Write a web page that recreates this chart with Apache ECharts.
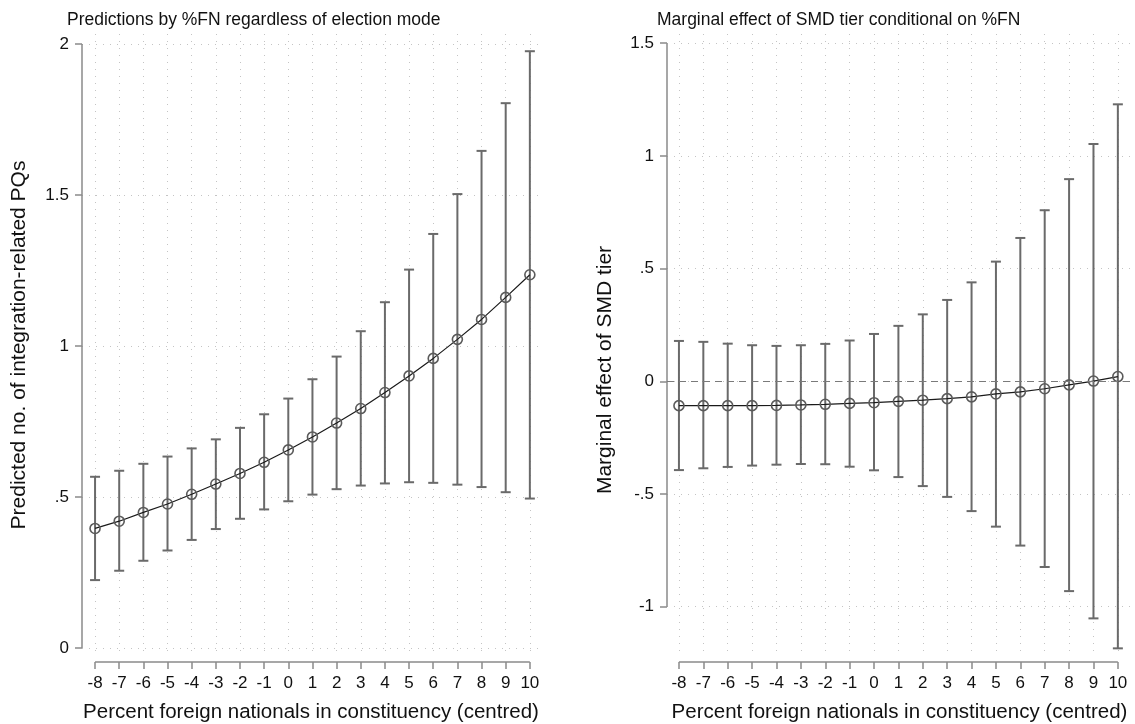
<!DOCTYPE html>
<html>
<head>
<meta charset="utf-8">
<script src="https://cdn.jsdelivr.net/npm/echarts@6/dist/echarts.min.js"></script>
<style>
  html, body { margin: 0; padding: 0; background: #fff; }
  #chart { width: 1135px; height: 724px; }
</style>
</head>
<body>
<div id="chart"></div>
<script>
// ---------- data ----------
const xValues = [-8, -7, -6, -5, -4, -3, -2, -1, 0, 1, 2, 3, 4, 5, 6, 7, 8, 9, 10];
const xTickLabels = ['-8','-7','-6','-5','-4','-3','-2','-1','0','1','2','3','4','5','6','7','8','9','10'];

// Left panel: predicted number of integration-related PQs
const predMean = [0.396, 0.420, 0.449, 0.477, 0.509, 0.543, 0.578, 0.615, 0.656, 0.699, 0.745, 0.793, 0.846, 0.901, 0.959, 1.022, 1.088, 1.161, 1.236];
const predLow  = [0.225, 0.256, 0.289, 0.323, 0.358, 0.394, 0.428, 0.459, 0.486, 0.508, 0.526, 0.538, 0.545, 0.549, 0.547, 0.541, 0.533, 0.516, 0.495];
const predHigh = [0.567, 0.587, 0.610, 0.634, 0.661, 0.691, 0.729, 0.774, 0.826, 0.890, 0.965, 1.049, 1.145, 1.253, 1.371, 1.503, 1.646, 1.804, 1.976];

// Right panel: marginal effect of SMD tier
const meMean = [-0.108, -0.108, -0.108, -0.108, -0.107, -0.105, -0.102, -0.098, -0.095, -0.089, -0.084, -0.077, -0.069, -0.056, -0.047, -0.033, -0.016, 0.001, 0.021];
const meLow  = [-0.394, -0.386, -0.380, -0.374, -0.370, -0.367, -0.368, -0.379, -0.395, -0.425, -0.465, -0.513, -0.576, -0.645, -0.729, -0.824, -0.931, -1.052, -1.185];
const meHigh = [0.179, 0.175, 0.167, 0.160, 0.157, 0.160, 0.166, 0.181, 0.210, 0.246, 0.297, 0.361, 0.439, 0.531, 0.636, 0.759, 0.897, 1.053, 1.229];

const leftYTicks = [0, 0.5, 1, 1.5, 2];
const leftYTickLabels = ['0', '.5', '1', '1.5', '2'];
const rightYTicks = [-1, -0.5, 0, 0.5, 1, 1.5];
const rightYTickLabels = ['-1', '-.5', '0', '.5', '1', '1.5'];

const leftTitle = 'Predictions by %FN regardless of election mode';
const rightTitle = 'Marginal effect of SMD tier conditional on %FN';
const xTitle = 'Percent foreign nationals in constituency (centred)';
const leftYTitle = 'Predicted no. of integration-related PQs';
const rightYTitle = 'Marginal effect of SMD tier';

// ---------- styling / layout ----------
const FONT = '"Liberation Sans", Arial, sans-serif';
const AXIS_COLOR = '#8a8a8a';
const BAR_COLOR = '#6a6a6a';
const GRID_COLOR = '#c4c4c4';

const leftRange = { xmin: -8.54, xmax: 10.42, ymin: -0.023, ymax: 2.033 };
const rightRange = { xmin: -8.49, xmax: 10.58, ymin: -1.2145, ymax: 1.541 };

function labelFor(ticks, labels) {
  return function (v) {
    for (let i = 0; i < ticks.length; i++) if (Math.abs(ticks[i] - v) < 1e-6) return labels[i];
    return '';
  };
}
function xLabel(v) { return labelFor(xValues, xTickLabels)(v); }

function makeXAxis(gi, r) {
  return {
    type: 'value', gridIndex: gi, min: r.xmin, max: r.xmax, offset: 7, position: 'bottom',
    axisLine: { show: false, onZero: false },
    axisTick: { show: true, customValues: xValues, length: 7, lineStyle: { color: AXIS_COLOR, width: 1.5 } },
    axisLabel: { customValues: xValues, formatter: xLabel, margin: 13, color: '#111', fontSize: 17, fontFamily: FONT },
    splitLine: { show: true, lineStyle: { color: GRID_COLOR, width: 1, type: [1, 6] } },
    name: xTitle, nameLocation: 'middle', nameGap: 40,
    nameTextStyle: { fontSize: 20.5, color: '#111', fontFamily: FONT }
  };
}
function makeYAxis(gi, r, ticks, labels) {
  return {
    type: 'value', gridIndex: gi, min: r.ymin, max: r.ymax, position: 'left',
    axisLine: { show: false, onZero: false },
    axisTick: { show: true, customValues: ticks, length: 7, lineStyle: { color: AXIS_COLOR, width: 1.5 } },
    axisLabel: { customValues: ticks, formatter: labelFor(ticks, labels), margin: 13, color: '#111', fontSize: 17, fontFamily: FONT },
    splitLine: { show: true, lineStyle: { color: GRID_COLOR, width: 1, type: [1, 6] } }
  };
}

function axisLinesSeries(gi, r, yFrom, yTo) {
  return {
    type: 'custom', xAxisIndex: gi, yAxisIndex: gi, clip: false, silent: true, z: 1,
    data: [[0]],
    renderItem: function (params, api) {
      const a = api.coord([xValues[0], r.ymin]);
      const b = api.coord([xValues[xValues.length - 1], r.ymin]);
      const c = api.coord([r.xmin, yFrom]);
      const d = api.coord([r.xmin, yTo]);
      return {
        type: 'group',
        children: [
          { type: 'line', shape: { x1: a[0], y1: a[1] + 7, x2: b[0], y2: b[1] + 7 }, style: { stroke: AXIS_COLOR, lineWidth: 1.5 } },
          { type: 'line', shape: { x1: c[0], y1: c[1], x2: d[0], y2: d[1] }, style: { stroke: AXIS_COLOR, lineWidth: 1.5 } }
        ]
      };
    }
  };
}

function errorBarSeries(gi, lows, highs) {
  return {
    type: 'custom', xAxisIndex: gi, yAxisIndex: gi, silent: true, z: 2,
    encode: { x: 0, y: [1, 2] },
    data: xValues.map((x, i) => [x, lows[i], highs[i]]),
    renderItem: function (params, api) {
      const lo = api.coord([api.value(0), api.value(1)]);
      const hi = api.coord([api.value(0), api.value(2)]);
      const half = 5;
      const st = { stroke: BAR_COLOR, lineWidth: 2 };
      return {
        type: 'group',
        children: [
          { type: 'line', shape: { x1: lo[0], y1: lo[1], x2: hi[0], y2: hi[1] }, style: st },
          { type: 'line', shape: { x1: lo[0] - half, y1: lo[1], x2: lo[0] + half, y2: lo[1] }, style: st },
          { type: 'line', shape: { x1: hi[0] - half, y1: hi[1], x2: hi[0] + half, y2: hi[1] }, style: st }
        ]
      };
    }
  };
}

function meanSeries(gi, means, extra) {
  const s = {
    type: 'line', xAxisIndex: gi, yAxisIndex: gi, z: 3, silent: true,
    data: xValues.map((x, i) => [x, means[i]]),
    symbol: 'circle', symbolSize: 10, showSymbol: true,
    lineStyle: { color: '#1a1a1a', width: 1.2 },
    itemStyle: { color: 'rgba(0,0,0,0)', borderColor: '#5a5a5a', borderWidth: 1.6 },
    animation: false
  };
  return Object.assign(s, extra || {});
}

const chart = echarts.init(document.getElementById('chart'), null, { renderer: 'canvas' });
chart.setOption({
  backgroundColor: '#ffffff',
  animation: false,
  title: [
    { text: leftTitle, left: 62, top: 6, textStyle: { fontSize: 17.5, fontWeight: 'normal', color: '#111', fontFamily: FONT } },
    { text: rightTitle, left: 652, top: 6, textStyle: { fontSize: 17.5, fontWeight: 'normal', color: '#111', fontFamily: FONT } }
  ],
  grid: [
    { left: 82, top: 34, width: 458, height: 621, outerBoundsMode: 'none', containLabel: false },
    { left: 667, top: 34, width: 465, height: 621, outerBoundsMode: 'none', containLabel: false }
  ],
  xAxis: [makeXAxis(0, leftRange), makeXAxis(1, rightRange)],
  yAxis: [
    makeYAxis(0, leftRange, leftYTicks, leftYTickLabels),
    makeYAxis(1, rightRange, rightYTicks, rightYTickLabels)
  ],
  graphic: [
    { type: 'text', x: 19, y: 345, rotation: Math.PI / 2,
      style: { text: leftYTitle, fontSize: 21, fontFamily: FONT, fill: '#111', textAlign: 'center', textVerticalAlign: 'middle' } },
    { type: 'text', x: 605, y: 370, rotation: Math.PI / 2,
      style: { text: rightYTitle, fontSize: 21, fontFamily: FONT, fill: '#111', textAlign: 'center', textVerticalAlign: 'middle' } }
  ],
  series: [
    axisLinesSeries(0, leftRange, leftYTicks[0], leftYTicks[leftYTicks.length - 1]),
    axisLinesSeries(1, rightRange, rightYTicks[0], rightYTicks[rightYTicks.length - 1]),
    errorBarSeries(0, predLow, predHigh),
    meanSeries(0, predMean),
    errorBarSeries(1, meLow, meHigh),
    meanSeries(1, meMean, {
      markLine: {
        silent: true, symbol: 'none', label: { show: false },
        lineStyle: { color: '#7a7a7a', width: 1.2, type: [7, 5] },
        data: [{ yAxis: 0 }]
      }
    })
  ]
});
</script>
</body>
</html>
